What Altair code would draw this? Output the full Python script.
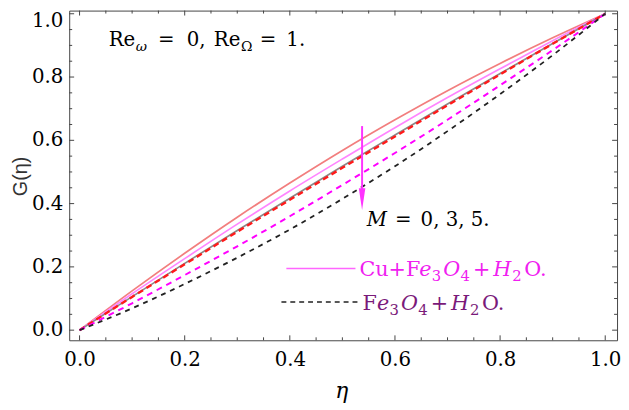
import altair as alt
import pandas as pd

# ---------------- data ----------------
eta = [0.0, 0.1, 0.2, 0.3, 0.4, 0.5, 0.6, 0.7, 0.8, 0.9, 1.0]
# Cu+Fe3O4+H2O (solid)
G_hyb_M0 = [0.0, 0.124, 0.243, 0.357, 0.465, 0.568, 0.665, 0.757, 0.843, 0.924, 1.0]
G_hyb_M3 = [0.0, 0.115, 0.226, 0.335, 0.440, 0.541, 0.640, 0.735, 0.826, 0.915, 1.0]
G_hyb_M5 = [0.0, 0.106, 0.211, 0.315, 0.417, 0.518, 0.617, 0.715, 0.811, 0.906, 1.0]
# Fe3O4+H2O (dashed)
G_fe_M0 = [0.0, 0.105, 0.208, 0.311, 0.412, 0.513, 0.612, 0.711, 0.808, 0.905, 1.0]
G_fe_M3 = [0.0, 0.085, 0.174, 0.265, 0.360, 0.459, 0.560, 0.665, 0.774, 0.885, 1.0]
G_fe_M5 = [0.0, 0.069, 0.146, 0.229, 0.318, 0.415, 0.518, 0.629, 0.746, 0.869, 1.0]

tick_values = [0.0, 0.2, 0.4, 0.6, 0.8, 1.0]
tick_labels = ["0.0", "0.2", "0.4", "0.6", "0.8", "1.0"]
minor_values = [0.05, 0.1, 0.15, 0.25, 0.3, 0.35, 0.45, 0.5, 0.55,
                0.65, 0.7, 0.75, 0.85, 0.9, 0.95]

# ---------------- layout ----------------
W, H = 555, 334
PAD_L, PAD_T = 62, 0
OX, OY = 8 + PAD_L, 8 + PAD_T   # page position of plot origin
FRAME = "#444444"
SERIF = "DejaVu Serif"
SANS = "Liberation Sans"
LAB = 20

xs = alt.Scale(domain=[-0.0197, 1.0225], nice=False, zero=False)
ys = alt.Scale(domain=[-0.032, 1.01], nice=False, zero=False)
XAX = alt.Axis(values=tick_values, format=".1f", title=None, labelPadding=10)
YAX = None

layers = []


def curve(vals, color, width, dash=None):
    df = pd.DataFrame({"eta": eta, "G": vals})
    kw = dict(color=color, strokeWidth=width, interpolate="monotone")
    if dash:
        kw["strokeDash"] = dash
    return alt.Chart(df).mark_line(**kw).encode(
        x=alt.X("eta:Q", scale=xs, axis=XAX),
        y=alt.Y("G:Q", scale=ys, axis=YAX),
    )


layers.append(curve(G_hyb_M0, "#F27E7E", 1.7))
layers.append(curve(G_hyb_M3, "#FF85FF", 1.7))
layers.append(curve(G_hyb_M5, "#8A8A8A", 1.7))
layers.append(curve(G_fe_M0, "#FF1A1A", 2.4, [6, 4]))
layers.append(curve(G_fe_M3, "#FF00FF", 2.0, [6, 5]))
layers.append(curve(G_fe_M5, "#222222", 1.8, [5, 5]))


# ---------------- frame ticks (inward, all four sides) ----------------
def xticks(vals, ln):
    df = pd.DataFrame({"t": vals})
    b = alt.Chart(df).mark_rule(color=FRAME, strokeWidth=1).encode(
        x=alt.X("t:Q", scale=xs, axis=XAX), y=alt.value(H), y2=alt.value(H - ln))
    t = alt.Chart(df).mark_rule(color=FRAME, strokeWidth=1).encode(
        x=alt.X("t:Q", scale=xs, axis=XAX), y=alt.value(0), y2=alt.value(ln))
    return [b, t]


def yticks(vals, ln):
    df = pd.DataFrame({"t": vals})
    l = alt.Chart(df).mark_rule(color=FRAME, strokeWidth=1).encode(
        y=alt.Y("t:Q", scale=ys, axis=YAX), x=alt.value(0), x2=alt.value(ln))
    r = alt.Chart(df).mark_rule(color=FRAME, strokeWidth=1).encode(
        y=alt.Y("t:Q", scale=ys, axis=YAX), x=alt.value(W), x2=alt.value(W - ln))
    return [l, r]


layers += xticks(tick_values, 5) + xticks(minor_values, 3)
layers += yticks(tick_values, 5) + yticks(minor_values, 3)

# y tick labels drawn through the y scale (top one nudged down so it is not clipped)
ylab = pd.DataFrame({"v": tick_values, "lab": tick_labels})
layers.append(
    alt.Chart(ylab).transform_filter("datum.v < 0.99").mark_text(
        font=SERIF, fontSize=LAB, align="right", baseline="middle", color="black").encode(
        y=alt.Y("v:Q", scale=ys, axis=YAX), x=alt.value(-6), text="lab:N"))
layers.append(
    alt.Chart(ylab).transform_filter("datum.v > 0.99").mark_text(
        font=SERIF, fontSize=LAB, align="right", baseline="middle", color="black",
        dy=7).encode(
        y=alt.Y("v:Q", scale=ys, axis=YAX), x=alt.value(-6), text="lab:N"))


# ---------------- text helpers (page coordinates) ----------------
def txt(s, px, py, size=20, style="normal", color="black", font=SERIF,
        angle=0, align="left", baseline="alphabetic"):
    kw = dict(font=font, fontSize=size, fontStyle=style, color=color,
              align=align, baseline=baseline)
    if angle:
        kw["angle"] = angle
    return alt.Chart(pd.DataFrame({"s": [s]})).mark_text(**kw).encode(
        text="s:N", x=alt.value(px - OX), y=alt.value(py - OY))


WID = {"C": 698, "u": 644, "+": 838, "F": 683, "e": 560, "O": 787,
       "H": 872, ".": 318, "M": 995, "=": 838, ",": 318, " ": 318}


def wid(s, size):
    return sum(WID.get(ch, 636) for ch in s) / 1000.0 * size


def runs(items, x0, base, color, size=21, sub=15):
    out = []
    x = x0
    for s, kind, gap in items:
        x += gap
        if kind == "s":
            out.append(txt(s, x, base + 5, size=sub, color=color))
            x += wid(s, sub)
        else:
            st = "italic" if kind == "i" else "normal"
            out.append(txt(s, x, base, size=size, style=st, color=color))
            x += wid(s, size)
    return out


# Re annotation
RE_BASE = 44
layers += [
    txt("Re", 110, RE_BASE),
    txt("ω", 137.5, RE_BASE + 5, size=14, style="italic"),
    txt("=", 160, RE_BASE),
    txt("0,", 189, RE_BASE),
    txt("Re", 216.5, RE_BASE),
    txt("Ω", 244, RE_BASE + 5, size=14),
    txt("=", 263, RE_BASE),
    txt("1.", 290, RE_BASE),
]

# M annotation
M_BASE = 226.5
layers += [
    txt("M", 371.5, M_BASE, style="italic"),
    txt("=", 400, M_BASE),
    txt("0, 3, 5.", 426, M_BASE),
]

# arrow
layers.append(
    alt.Chart(pd.DataFrame({"a": [0]})).mark_rule(color="#FF33FF", strokeWidth=2).encode(
        x=alt.value(366.7 - OX), y=alt.value(125 - OY), y2=alt.value(194 - OY)))
layers.append(
    alt.Chart(pd.DataFrame({"a": [0]})).mark_point(
        shape="M-0.3,-1L0.3,-1L0,1Z", filled=True, color="#FF33FF", opacity=1,
        size=484).encode(x=alt.value(366.7 - OX), y=alt.value(199 - OY)))

# legend
cu_items = [("Cu+F", "r", 0), ("e", "i", 0.5), ("3", "s", 1), ("O", "i", 2),
            ("4", "s", 1), ("+", "r", 3), ("H", "i", 3), ("2", "s", 1), ("O.", "r", 2.5)]
fe_items = [("F", "r", 0), ("e", "i", 0.5), ("3", "s", 1), ("O", "i", 2),
            ("4", "s", 1), ("+", "r", 3), ("H", "i", 3), ("2", "s", 1), ("O.", "r", 2.5)]
layers.append(
    alt.Chart(pd.DataFrame({"a": [0]})).mark_rule(color="#FF66FF", strokeWidth=1.6).encode(
        x=alt.value(290 - OX), x2=alt.value(360 - OX), y=alt.value(269.3 - OY)))
layers += runs(cu_items, 364, 276.5, "#F020F0")
layers.append(
    alt.Chart(pd.DataFrame({"a": [0]})).mark_rule(color="#222222", strokeWidth=1.6,
                                                   strokeDash=[5, 4]).encode(
        x=alt.value(285 - OX), x2=alt.value(366 - OX), y=alt.value(303.3 - OY)))
layers += runs(fe_items, 367, 311.7, "#7A1A7A")

# axis titles
layers.append(txt("η", 346, 400, size=22, style="italic", align="center"))
layers.append(txt("G(η)", 21, 176, size=20, font=SANS, color="#333333",
                  angle=270, align="center", baseline="middle"))

chart = alt.layer(*layers).properties(
    width=W, height=H,
    padding={"left": PAD_L, "top": PAD_T, "right": 4, "bottom": 68},
    autosize=alt.AutoSizeParams(type="none"),
).configure_view(
    stroke=FRAME, strokeWidth=1
).configure_axis(
    labelFont=SERIF, labelFontSize=LAB, labelColor="black",
    domain=False, ticks=False, tickSize=0, grid=False,
)

chart.save("out.html", embed_options={"renderer": "svg", "actions": False})
